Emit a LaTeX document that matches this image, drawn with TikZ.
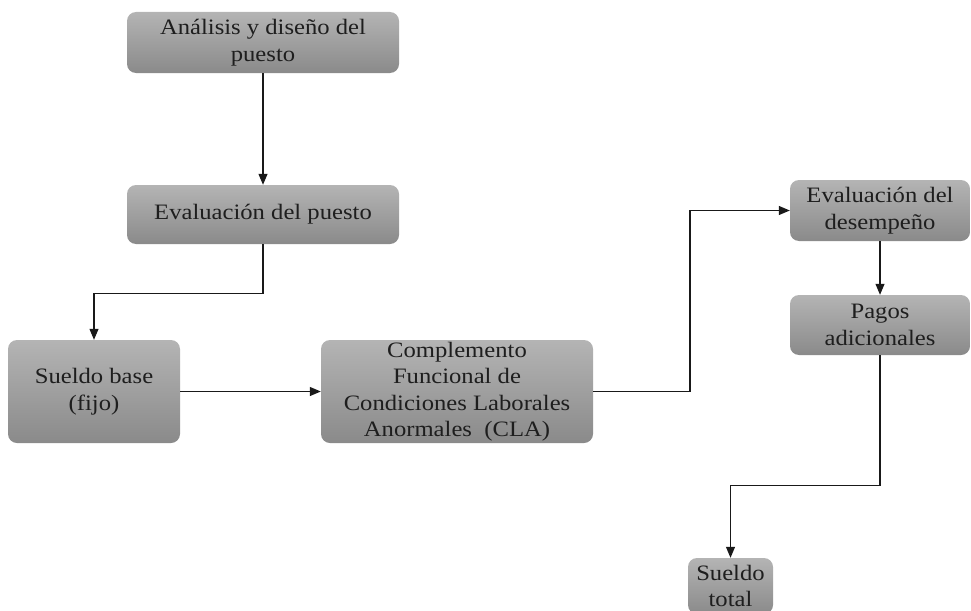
\documentclass[tikz,border=0pt]{standalone}
\usepackage{fontspec}
\setmainfont{Liberation Serif}[FakeStretch=1.12]
\usetikzlibrary{arrows.meta}
\definecolor{boxtop}{HTML}{B4B4B4}
\definecolor{boxbot}{HTML}{8A8A8A}
\definecolor{txt}{HTML}{1E1E1E}
\tikzset{
  box/.style={rounded corners=9pt, top color=boxtop, bottom color=boxbot, draw=none,
    align=center, font=\fontsize{22}{26.5}\selectfont, text=txt, inner sep=0pt},
  conn/.style={draw=black!90, line width=1.1pt, -{Triangle[length=11pt,width=9pt]}}
}
\begin{document}
\begin{tikzpicture}[x=1pt,y=-1pt]
\useasboundingbox (0,0) rectangle (971,610);
\node[box, minimum width=272pt, minimum height=61pt] (a) at (263,42.5) {Análisis y diseño del\\puesto};
\node[box, minimum width=272pt, minimum height=59pt] (b) at (263,214.5) {Evaluación del puesto};
\node[box, minimum width=172pt, minimum height=103pt] (c) at (94,391.5) {Sueldo base\\(fijo)};
\node[box, minimum width=272pt, minimum height=103pt] (d) at (457,391.5) {Complemento\\Funcional de\\Condiciones Laborales\\Anormales\ \ (CLA)};
\node[box, minimum width=180pt, minimum height=61pt] (e) at (880,210.5) {Evaluación del\\desempeño};
\node[box, minimum width=180pt, minimum height=60pt] (f) at (880,325) {Pagos\\adicionales};
\node[box, minimum width=85pt, minimum height=56pt] (g) at (730.5,586) {Sueldo\\total};
\draw[conn] (a.south) -- (b.north);
\draw[conn] (b.south) -- ++(0,49) -| (c.north);
\draw[conn] (c.east) -- (d.west);
\draw[conn] (d.east) -- (690,391.5) |- (e.west);
\draw[conn] (e.south) -- (f.north);
\draw[conn] (f.south) -- ++(0,130) -| (g.north);
\end{tikzpicture}
\end{document}
